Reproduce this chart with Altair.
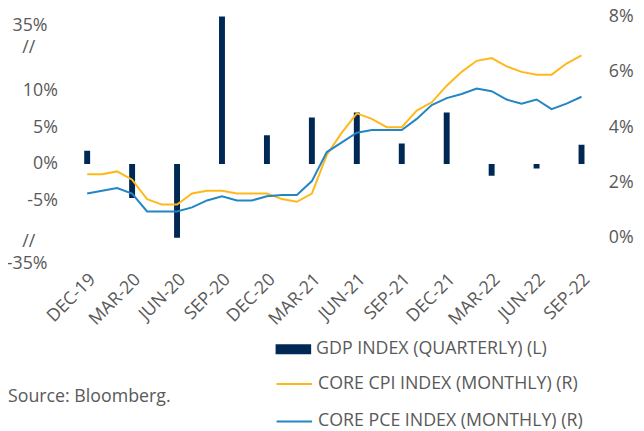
import json
import altair as alt
import pandas as pd

# ---------------- data ----------------
quarter_labels = ["DEC-19", "MAR-20", "JUN-20", "SEP-20", "DEC-20", "MAR-21",
                  "JUN-21", "SEP-21", "DEC-21", "MAR-22", "JUN-22", "SEP-22"]
# real GDP, annualised q/q %, left axis (broken axis: extremes clipped)
gdp_qoq = [1.8, -4.6, -31.2, 33.8, 3.9, 6.3, 7.0, 2.8, 7.0, -1.6, -0.6, 2.6]
# monthly y/y %, Dec-19 .. Sep-22, right axis
core_cpi = [2.3, 2.3, 2.4, 2.1, 1.4, 1.2, 1.2, 1.6, 1.7, 1.7, 1.6, 1.6,
            1.6, 1.4, 1.3, 1.6, 3.0, 3.8, 4.5, 4.3, 4.0, 4.0, 4.6, 4.9,
            5.5, 6.0, 6.4, 6.5, 6.2, 6.0, 5.9, 5.9, 6.3, 6.6]
core_pce = [1.6, 1.7, 1.8, 1.6, 0.95, 0.95, 0.95, 1.1, 1.35, 1.5, 1.35, 1.35,
            1.5, 1.55, 1.55, 2.05, 3.1, 3.45, 3.8, 3.9, 3.9, 3.9, 4.3, 4.8,
            5.05, 5.2, 5.4, 5.3, 5.0, 4.85, 5.0, 4.65, 4.85, 5.1]

GDP_NAME = "GDP INDEX (QUARTERLY) (L)"
CPI_NAME = "CORE CPI INDEX (MONTHLY) (R)"
PCE_NAME = "CORE PCE INDEX (MONTHLY) (R)"

left_tick_values = [-5, 0, 5, 10]
right_tick_values = [0, 2, 4, 6, 8]
left_domain = [-10, 20]
right_domain = [0, 8]

# axis-break annotations on the left axis (label, level on left scale)
break_labels = ["35%", "-35%"]
break_levels = [18.75, -13.6]
slash_labels = ["//", "//"]
slash_levels = [15.75, -10.6]

source_note = "Source: Bloomberg."

NAVY = "#002855"
GOLD = "#FFB81C"
BLUE = "#2385C3"
GRAY = "#595959"
FONT = "Open Sans"
FS = 18

W, H = 541, 224

# ---------------- tables ----------------
gdp_df = pd.DataFrame({
    "m": [3 * k for k in range(len(quarter_labels))],
    "v": gdp_qoq,
    "series": GDP_NAME,
})
line_df = pd.DataFrame({
    "m": list(range(len(core_cpi))) + list(range(len(core_pce))),
    "v": core_cpi + core_pce,
    "series": [CPI_NAME] * len(core_cpi) + [PCE_NAME] * len(core_pce),
})
break_df = pd.DataFrame({"label": break_labels, "v": break_levels})
slash_df = pd.DataFrame({"label": slash_labels, "v": slash_levels})
source_df = pd.DataFrame({"t": [source_note]})

x_scale = alt.Scale(domain=[-1, len(core_cpi)], nice=False, zero=False)
left_scale = alt.Scale(domain=left_domain, nice=False, zero=False)
right_scale = alt.Scale(domain=right_domain, nice=False, zero=False)

label_expr = json.dumps(quarter_labels) + "[round(datum.value / 3)]"
x_axis = alt.Axis(values=[3 * k for k in range(len(quarter_labels))],
                  labelExpr=label_expr, labelAngle=-45, labelAlign="right",
                  labelBaseline="top", labelOffset=-1, labelPadding=33,
                  ticks=False, tickSize=0, domain=False, grid=False,
                  labelFontSize=FS, labelColor=GRAY, labelFont=FONT, title=None,
                  labelOverlap=False, labelBound=False, labelFlush=False)

left_axis = alt.Axis(values=left_tick_values, labelExpr="datum.value + '%'",
                     ticks=False, tickSize=0, domain=False, grid=False,
                     labelPadding=10, labelFontSize=FS, labelColor=GRAY,
                     labelFont=FONT, title=None)
right_axis = alt.Axis(orient="right", values=right_tick_values,
                      labelExpr="datum.value + '%'", ticks=False, tickSize=0,
                      domain=False, grid=False, labelPadding=7,
                      labelFontSize=FS, labelColor=GRAY, labelFont=FONT,
                      title=None)

bars = alt.Chart(gdp_df).mark_bar(size=6, clip=True).encode(
    x=alt.X("m:Q", scale=x_scale, axis=x_axis),
    y=alt.Y("v:Q", scale=left_scale, axis=left_axis),
    color=alt.Color("series:N",
                    scale=alt.Scale(domain=[GDP_NAME], range=[NAVY]),
                    legend=alt.Legend(orient="none", legendX=211, legendY=319,
                                      title=None, symbolType="M-1,-0.28H1V0.28H-1Z",
                                      symbolSize=1296, labelFontSize=FS,
                                      labelColor=GRAY, labelFont=FONT,
                                      labelOffset=5, labelLimit=400, padding=0,
                                      symbolStrokeWidth=0)),
)

breaks = alt.Chart(break_df).mark_text(align="right", baseline="middle",
                                       fontSize=FS, font=FONT, color=GRAY).encode(
    x=alt.value(-20),
    y=alt.Y("v:Q", scale=left_scale, axis=left_axis),
    text="label:N",
)
slashes = alt.Chart(slash_df).mark_text(align="center", baseline="middle",
                                        fontSize=FS, font=FONT, color=GRAY).encode(
    x=alt.value(-39),
    y=alt.Y("v:Q", scale=left_scale, axis=left_axis),
    text="label:N",
)
source = alt.Chart(source_df).mark_text(align="left", baseline="middle",
                                        fontSize=FS, font=FONT, color=GRAY).encode(
    x=alt.value(-60), y=alt.value(385), text="t:N")

lines = alt.Chart(line_df).mark_line(strokeWidth=2).encode(
    x=alt.X("m:Q", scale=x_scale, axis=x_axis),
    y=alt.Y("v:Q", scale=right_scale, axis=right_axis),
    stroke=alt.Stroke("series:N",
                      scale=alt.Scale(domain=[CPI_NAME, PCE_NAME], range=[GOLD, BLUE]),
                      legend=alt.Legend(orient="none", legendX=211, legendY=353,
                                        title=None, symbolType="stroke",
                                        symbolSize=1296, symbolStrokeWidth=2,
                                        labelFontSize=FS, labelColor=GRAY,
                                        labelFont=FONT, labelOffset=5,
                                        labelLimit=400, padding=0, rowPadding=10)),
)

left = alt.layer(bars, breaks, slashes, source)
chart = alt.layer(left, lines).resolve_scale(y="independent").properties(
    width=W, height=H,
    padding={"left": 60, "top": 6, "right": 35, "bottom": 192},
    autosize=alt.AutoSizeParams(type="none"),
).configure_view(stroke=None)

chart.save("out.html", embed_options={"renderer": "svg", "actions": False})
